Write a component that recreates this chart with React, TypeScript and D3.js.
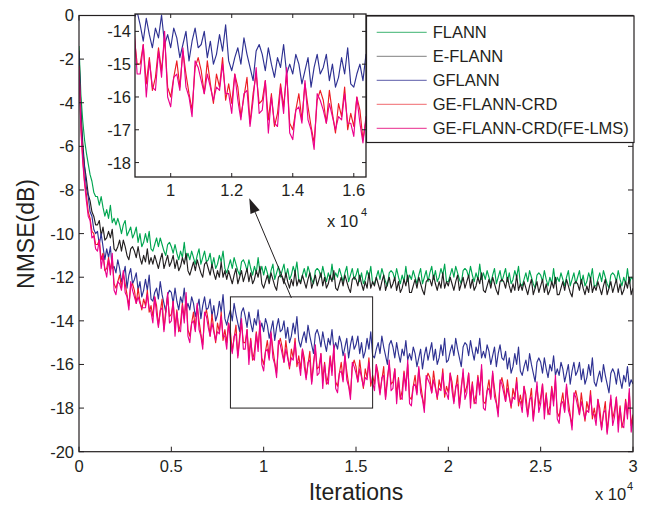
import React from 'react';
import * as d3 from 'd3';

// iterations sampled every 100
const ITER: number[] = d3.range(0, 30001, 100);

const FLANN = [
-1.4,-3.6,-4.8,-5.7,-6.3,-6.8,-7.3,-7.6,-8.1,-8.3,
-8.3,-8.7,-8.3,-8.8,-9.2,-8.9,-9.3,-8.7,-9.5,-9.3,
-9.6,-9.3,-9.6,-10.0,-9.6,-9.4,-10.1,-9.9,-9.7,-10.2,
-10.0,-9.7,-10.4,-10.0,-10.6,-10.4,-10.0,-10.4,-9.9,-10.7,
-10.8,-10.5,-10.2,-10.6,-10.2,-10.5,-10.8,-11.0,-10.5,-10.4,
-10.6,-10.9,-10.5,-10.9,-11.2,-10.8,-11.1,-10.4,-11.2,-10.9,
-11.2,-10.8,-11.1,-11.4,-11.0,-10.7,-11.4,-11.1,-10.8,-11.3,
-11.2,-10.9,-11.5,-11.1,-11.6,-11.4,-11.0,-11.3,-10.8,-11.6,
-11.8,-11.5,-11.2,-11.6,-11.1,-11.4,-11.7,-11.9,-11.3,-11.2,
-11.4,-11.7,-11.2,-11.6,-11.9,-11.5,-11.8,-11.1,-11.8,-11.5,
-11.9,-11.5,-11.8,-12.1,-11.7,-11.4,-12.1,-11.8,-11.5,-12.0,
-11.7,-11.4,-12.0,-11.6,-12.1,-11.9,-11.5,-11.8,-11.3,-12.1,
-12.2,-11.9,-11.6,-12.0,-11.5,-11.8,-12.1,-12.3,-11.7,-11.6,
-11.7,-12.0,-11.5,-11.9,-12.2,-11.8,-12.1,-11.4,-12.1,-11.8,
-12.0,-11.6,-11.9,-12.2,-11.8,-11.5,-12.2,-11.9,-11.6,-12.1,
-11.9,-11.6,-12.2,-11.8,-12.3,-12.1,-11.7,-12.0,-11.5,-12.3,
-12.3,-12.0,-11.7,-12.1,-11.6,-11.9,-12.2,-12.4,-11.8,-11.7,
-11.8,-12.1,-11.6,-12.0,-12.3,-11.9,-12.2,-11.5,-12.2,-11.9,
-12.1,-11.7,-12.0,-12.3,-11.9,-11.6,-12.3,-12.0,-11.7,-12.2,
-11.8,-11.5,-12.1,-11.7,-12.2,-12.0,-11.6,-11.9,-11.4,-12.2,
-12.2,-11.9,-11.6,-12.0,-11.5,-11.8,-12.1,-12.3,-11.7,-11.6,
-11.7,-12.0,-11.5,-11.9,-12.2,-11.8,-12.1,-11.4,-12.1,-11.8,
-12.1,-11.7,-12.0,-12.3,-11.9,-11.6,-12.3,-12.0,-11.7,-12.2,
-11.9,-11.6,-12.2,-11.8,-12.3,-12.1,-11.7,-12.0,-11.5,-12.3,
-12.4,-12.1,-11.8,-12.2,-11.7,-12.0,-12.3,-12.5,-11.9,-11.8,
-11.9,-12.2,-11.7,-12.1,-12.4,-12.0,-12.3,-11.6,-12.3,-12.0,
-12.2,-11.8,-12.1,-12.4,-12.0,-11.7,-12.4,-12.1,-11.8,-12.3,
-12.0,-11.7,-12.3,-11.9,-12.4,-12.2,-11.8,-12.1,-11.6,-12.4,
-12.4,-12.1,-11.8,-12.2,-11.7,-12.0,-12.3,-12.5,-11.9,-11.8,
-11.9,-12.2,-11.7,-12.1,-12.4,-12.0,-12.3,-11.6,-12.3,-12.0,
-12.1];

const E_FLANN = [
-1.6,-4.3,-5.8,-6.9,-7.5,-8.2,-8.5,-9.0,-9.2,-9.6,
-9.6,-9.4,-10.1,-9.7,-10.3,-10.2,-9.9,-10.2,-9.8,-10.7,
-10.8,-10.6,-10.3,-10.8,-10.3,-10.6,-11.0,-11.2,-10.7,-10.6,
-10.8,-11.1,-10.6,-11.1,-11.4,-11.0,-11.3,-10.7,-11.4,-11.1,
-11.4,-11.0,-11.3,-11.6,-11.2,-10.9,-11.6,-11.3,-11.0,-11.5,
-11.3,-11.0,-11.6,-11.2,-11.7,-11.5,-11.1,-11.4,-10.9,-11.7,
-11.9,-11.6,-11.3,-11.7,-11.2,-11.5,-11.8,-12.0,-11.4,-11.3,
-11.6,-11.9,-11.4,-11.8,-12.1,-11.7,-12.0,-11.3,-12.0,-11.7,
-12.1,-11.7,-12.0,-12.3,-11.9,-11.6,-12.3,-12.0,-11.7,-12.2,
-11.9,-11.6,-12.2,-11.8,-12.3,-12.1,-11.7,-12.0,-11.5,-12.3,
-12.5,-12.2,-11.9,-12.3,-11.8,-12.1,-12.4,-12.6,-12.0,-11.9,
-12.0,-12.3,-11.8,-12.2,-12.5,-12.1,-12.4,-11.7,-12.4,-12.1,
-12.3,-11.9,-12.2,-12.5,-12.1,-11.8,-12.5,-12.2,-11.9,-12.4,
-12.1,-11.8,-12.4,-12.0,-12.5,-12.3,-11.9,-12.2,-11.7,-12.5,
-12.6,-12.3,-12.0,-12.4,-11.9,-12.2,-12.5,-12.7,-12.1,-12.0,
-12.1,-12.4,-11.9,-12.3,-12.6,-12.2,-12.5,-11.8,-12.5,-12.2,
-12.4,-12.0,-12.3,-12.6,-12.2,-11.9,-12.6,-12.3,-12.0,-12.5,
-12.3,-12.0,-12.6,-12.2,-12.7,-12.5,-12.1,-12.4,-11.9,-12.7,
-12.7,-12.4,-12.1,-12.5,-12.0,-12.3,-12.6,-12.8,-12.2,-12.1,
-12.1,-12.4,-11.9,-12.3,-12.6,-12.2,-12.5,-11.8,-12.5,-12.2,
-12.4,-12.0,-12.3,-12.6,-12.2,-11.9,-12.6,-12.3,-12.0,-12.5,
-12.2,-11.9,-12.5,-12.1,-12.6,-12.4,-12.0,-12.3,-11.8,-12.6,
-12.7,-12.4,-12.1,-12.5,-12.0,-12.3,-12.6,-12.8,-12.2,-12.1,
-12.2,-12.5,-12.0,-12.4,-12.7,-12.3,-12.6,-11.9,-12.6,-12.3,
-12.6,-12.2,-12.5,-12.8,-12.4,-12.1,-12.8,-12.5,-12.2,-12.7,
-12.4,-12.1,-12.7,-12.3,-12.8,-12.6,-12.2,-12.5,-12.0,-12.8,
-12.8,-12.5,-12.2,-12.6,-12.1,-12.4,-12.7,-12.9,-12.3,-12.2,
-12.3,-12.6,-12.1,-12.5,-12.8,-12.4,-12.7,-12.0,-12.7,-12.4,
-12.6,-12.2,-12.5,-12.8,-12.4,-12.1,-12.8,-12.5,-12.2,-12.7,
-12.4,-12.1,-12.7,-12.3,-12.8,-12.6,-12.2,-12.5,-12.0,-12.8,
-12.5];

const GFLANN = [
-1.8,-4.6,-6.1,-7.0,-7.9,-8.3,-9.0,-9.2,-9.8,-10.0,
-9.9,-10.5,-10.0,-10.6,-11.2,-10.7,-11.1,-10.6,-11.6,-11.5,
-11.8,-11.2,-11.6,-12.2,-11.9,-11.5,-12.5,-11.9,-11.6,-12.3,
-12.1,-11.8,-12.6,-12.2,-12.9,-12.6,-12.1,-12.6,-11.9,-13.0,
-13.1,-12.7,-12.5,-13.0,-12.2,-12.8,-13.2,-13.6,-12.8,-12.6,
-12.7,-13.2,-12.5,-13.1,-13.5,-12.9,-13.2,-12.5,-13.5,-13.2,
-13.5,-12.9,-13.2,-13.8,-13.4,-13.0,-13.9,-13.3,-12.9,-13.5,
-13.4,-13.0,-13.8,-13.3,-14.0,-13.7,-13.1,-13.6,-12.8,-13.9,
-14.2,-13.8,-13.5,-14.0,-13.2,-13.7,-14.1,-14.5,-13.6,-13.4,
-13.8,-14.3,-13.6,-14.1,-14.5,-13.9,-14.2,-13.5,-14.4,-14.1,
-14.5,-13.9,-14.2,-14.8,-14.4,-14.0,-14.9,-14.3,-13.9,-14.5,
-14.4,-14.0,-14.8,-14.3,-15.0,-14.7,-14.1,-14.6,-13.8,-14.9,
-15.2,-14.8,-14.5,-15.0,-14.2,-14.7,-15.1,-15.5,-14.6,-14.4,
-14.7,-15.2,-14.5,-15.0,-15.4,-14.8,-15.1,-14.4,-15.3,-15.0,
-15.3,-14.7,-15.0,-15.6,-15.2,-14.8,-15.7,-15.1,-14.7,-15.3,
-15.1,-14.7,-15.5,-15.0,-15.7,-15.4,-14.8,-15.3,-14.5,-15.6,
-15.7,-15.3,-15.0,-15.5,-14.7,-15.2,-15.6,-16.0,-15.1,-14.9,
-15.2,-15.7,-15.0,-15.5,-15.9,-15.3,-15.6,-14.9,-15.8,-15.5,
-15.8,-15.2,-15.5,-16.1,-15.7,-15.3,-16.2,-15.6,-15.2,-15.8,
-15.4,-15.0,-15.8,-15.3,-16.0,-15.7,-15.1,-15.6,-14.8,-15.9,
-15.8,-15.4,-15.1,-15.6,-14.8,-15.3,-15.7,-16.1,-15.2,-15.0,
-15.1,-15.6,-14.9,-15.4,-15.8,-15.2,-15.5,-14.8,-15.7,-15.4,
-15.7,-15.1,-15.4,-16.0,-15.6,-15.2,-16.1,-15.5,-15.1,-15.7,
-15.8,-15.4,-16.2,-15.7,-16.4,-16.1,-15.5,-16.0,-15.2,-16.3,
-16.5,-16.1,-15.8,-16.3,-15.5,-16.0,-16.4,-16.8,-15.9,-15.7,
-15.9,-16.4,-15.7,-16.2,-16.6,-16.0,-16.3,-15.6,-16.5,-16.2,
-16.5,-15.9,-16.2,-16.8,-16.4,-16.0,-16.9,-16.3,-15.9,-16.5,
-16.3,-15.9,-16.7,-16.2,-16.9,-16.6,-16.0,-16.5,-15.7,-16.8,
-17.0,-16.6,-16.3,-16.8,-16.0,-16.5,-16.9,-17.3,-16.4,-16.2,
-16.4,-16.9,-16.2,-16.7,-17.1,-16.5,-16.8,-16.1,-17.0,-16.7,
-16.9];

const GE_FLANN_CRD = [
-2.3,-5.0,-6.5,-7.6,-8.2,-9.0,-9.3,-9.9,-10.0,-10.5,
-10.5,-10.3,-11.2,-10.9,-11.7,-11.6,-11.1,-11.7,-11.1,-12.3,
-12.5,-12.2,-11.9,-12.5,-11.8,-12.3,-12.8,-13.3,-12.4,-12.3,
-12.6,-13.2,-12.5,-13.1,-13.5,-13.0,-13.3,-12.6,-13.6,-13.3,
-13.8,-12.9,-13.3,-14.2,-13.6,-13.0,-14.4,-13.5,-12.9,-13.8,
-13.7,-13.1,-14.3,-13.5,-14.5,-14.1,-13.2,-13.9,-12.9,-14.4,
-14.7,-14.1,-13.6,-14.4,-13.3,-14.0,-14.6,-15.1,-13.8,-13.5,
-14.0,-14.7,-13.7,-14.4,-15.0,-14.1,-14.5,-13.6,-14.9,-14.4,
-15.0,-14.1,-14.5,-15.4,-14.8,-14.2,-15.6,-14.7,-14.1,-15.0,
-15.0,-14.4,-15.6,-14.8,-15.8,-15.4,-14.5,-15.2,-14.2,-15.7,
-16.0,-15.4,-14.9,-15.7,-14.6,-15.3,-15.9,-16.4,-15.1,-14.8,
-15.2,-15.9,-14.9,-15.6,-16.2,-15.3,-15.7,-14.8,-16.1,-15.6,
-16.2,-15.3,-15.7,-16.6,-16.0,-15.4,-16.8,-15.9,-15.3,-16.2,
-16.1,-15.5,-16.7,-15.9,-16.9,-16.5,-15.6,-16.3,-15.3,-16.8,
-17.0,-16.4,-15.9,-16.7,-15.6,-16.3,-16.9,-17.4,-16.1,-15.8,
-16.1,-16.8,-15.8,-16.5,-17.1,-16.2,-16.6,-15.7,-17.0,-16.5,
-16.9,-16.0,-16.4,-17.3,-16.7,-16.1,-17.5,-16.6,-16.0,-16.9,
-16.8,-16.2,-17.4,-16.6,-17.6,-17.2,-16.3,-17.0,-16.0,-17.5,
-17.6,-17.0,-16.5,-17.3,-16.2,-16.9,-17.5,-18.0,-16.7,-16.4,
-16.6,-17.3,-16.3,-17.0,-17.6,-16.7,-17.1,-16.2,-17.5,-17.0,
-17.3,-16.4,-16.8,-17.7,-17.1,-16.5,-17.9,-17.0,-16.4,-17.3,
-17.0,-16.4,-17.6,-16.8,-17.8,-17.4,-16.5,-17.2,-16.2,-17.7,
-17.8,-17.2,-16.7,-17.5,-16.4,-17.1,-17.7,-18.2,-16.9,-16.6,
-17.0,-17.7,-16.7,-17.4,-18.0,-17.1,-17.5,-16.6,-17.9,-17.4,
-17.9,-17.0,-17.4,-18.3,-17.7,-17.1,-18.5,-17.6,-17.0,-17.9,
-17.5,-16.9,-18.1,-17.3,-18.3,-17.9,-17.0,-17.7,-16.7,-18.2,
-18.4,-17.8,-17.3,-18.1,-17.0,-17.7,-18.3,-18.8,-17.5,-17.2,
-17.6,-18.3,-17.3,-18.0,-18.6,-17.7,-18.1,-17.2,-18.5,-18.0,
-18.5,-17.6,-18.0,-18.9,-18.3,-17.7,-19.1,-18.2,-17.6,-18.5,
-18.1,-17.5,-18.7,-17.9,-18.9,-18.5,-17.6,-18.3,-17.3,-18.8,
-18.3];

const GE_FLANN_CRD_FELMS = [
-2.4,-5.2,-6.7,-7.7,-8.5,-9.2,-9.4,-10.2,-10.1,-10.7,
-10.8,-10.3,-11.6,-11.0,-11.6,-12.0,-11.2,-11.9,-10.9,-12.6,
-12.8,-12.2,-12.3,-12.6,-11.7,-12.7,-12.9,-13.5,-12.2,-12.6,
-12.9,-13.2,-12.9,-13.2,-13.4,-13.4,-13.4,-12.8,-13.4,-13.6,
-14.1,-12.9,-13.7,-14.3,-13.5,-13.4,-14.5,-13.7,-12.7,-14.1,
-14.0,-13.1,-14.7,-13.6,-14.4,-14.5,-13.3,-14.1,-12.7,-14.7,
-15.0,-14.1,-14.0,-14.5,-13.2,-14.4,-14.7,-15.3,-13.6,-13.8,
-14.3,-14.7,-14.1,-14.5,-14.9,-14.5,-14.6,-13.8,-14.7,-14.7,
-15.3,-14.1,-14.9,-15.5,-14.7,-14.6,-15.7,-14.9,-13.9,-15.3,
-15.3,-14.4,-16.0,-14.9,-15.7,-15.8,-14.6,-15.4,-14.0,-16.0,
-16.3,-15.4,-15.3,-15.8,-14.5,-15.7,-16.0,-16.6,-14.9,-15.1,
-15.5,-15.9,-15.3,-15.7,-16.1,-15.7,-15.8,-15.0,-15.9,-15.9,
-16.5,-15.3,-16.1,-16.7,-15.9,-15.8,-16.9,-16.1,-15.1,-16.5,
-16.4,-15.5,-17.1,-16.0,-16.8,-16.9,-15.7,-16.5,-15.1,-17.1,
-17.3,-16.4,-16.3,-16.8,-15.5,-16.7,-17.0,-17.6,-15.9,-16.1,
-16.4,-16.8,-16.2,-16.6,-17.0,-16.6,-16.7,-15.9,-16.8,-16.8,
-17.2,-16.0,-16.8,-17.4,-16.6,-16.5,-17.6,-16.8,-15.8,-17.2,
-17.1,-16.2,-17.8,-16.7,-17.5,-17.6,-16.4,-17.2,-15.8,-17.8,
-17.9,-17.0,-16.9,-17.4,-16.1,-17.3,-17.6,-18.2,-16.5,-16.7,
-16.9,-17.3,-16.7,-17.1,-17.5,-17.1,-17.2,-16.4,-17.3,-17.3,
-17.6,-16.4,-17.2,-17.8,-17.0,-16.9,-18.0,-17.2,-16.2,-17.6,
-17.3,-16.4,-18.0,-16.9,-17.7,-17.8,-16.6,-17.4,-16.0,-18.0,
-18.1,-17.2,-17.1,-17.6,-16.3,-17.5,-17.8,-18.4,-16.7,-16.9,
-17.3,-17.7,-17.1,-17.5,-17.9,-17.5,-17.6,-16.8,-17.7,-17.7,
-18.2,-17.0,-17.8,-18.4,-17.6,-17.5,-18.6,-17.8,-16.8,-18.2,
-17.8,-16.9,-18.5,-17.4,-18.2,-18.3,-17.1,-17.9,-16.5,-18.5,
-18.7,-17.8,-17.7,-18.2,-16.9,-18.1,-18.4,-19.0,-17.3,-17.5,
-17.9,-18.3,-17.7,-18.1,-18.5,-18.1,-18.2,-17.4,-18.3,-18.3,
-18.8,-17.6,-18.4,-19.0,-18.2,-18.1,-19.2,-18.4,-17.4,-18.8,
-18.4,-17.5,-19.1,-18.0,-18.8,-18.9,-17.7,-18.5,-17.1,-19.1,
-18.5];

const SERIES_NAMES = ['FLANN', 'E-FLANN', 'GFLANN', 'GE-FLANN-CRD', 'GE-FLANN-CRD(FE-LMS)'];
const SERIES_VALUES = [FLANN, E_FLANN, GFLANN, GE_FLANN_CRD, GE_FLANN_CRD_FELMS];
const SERIES_COLORS = ['#00a651', '#231f20', '#2e3192', '#ed1c24', '#ec008c'];
const LEGEND_COLORS = ['#3cb371', '#808080', '#5a5aa8', '#f06a6e', '#e8288c'];

const X_TICKS = [0, 5000, 10000, 15000, 20000, 25000, 30000];
const X_TICK_LABELS = ['0', '0.5', '1', '1.5', '2', '2.5', '3'];
const Y_TICKS = [-20, -18, -16, -14, -12, -10, -8, -6, -4, -2, 0];
const INSET_X_TICKS = [10000, 12000, 14000, 16000];
const INSET_X_TICK_LABELS = ['1', '1.2', '1.4', '1.6'];
const INSET_Y_TICKS = [-18, -17, -16, -15, -14];
const INSET_SERIES = [2, 3, 4];
const ZOOM_BOX_X = [8200, 15900];
const ZOOM_BOX_Y = [-18, -12.9];
const ARROW_FROM = [11500, -12.95];
const ARROW_TO = [9220, -8.38];

const FONT = '"Liberation Sans", Arial, Helvetica, sans-serif';
const TXT = '#231f20';

export default function App() {
  const W = 651, H = 505;
  const m = { l: 79, r: 633, t: 15.5, b: 451.7 };
  const ins = { l: 135, r: 366, t: 14, b: 177 };

  const x = d3.scaleLinear().domain([0, 30000]).range([m.l, m.r]);
  const y = d3.scaleLinear().domain([-20, 0]).range([m.b, m.t]);
  const ix = d3.scaleLinear().domain([8830, 16400]).range([ins.l, ins.r]);
  const iy = d3.scaleLinear().domain([-18.44, -13.47]).range([ins.b, ins.t]);

  const mainLine = d3.line<number>().x((_, i) => x(ITER[i])).y(d => y(d));
  const insetLine = d3.line<number>().x((_, i) => ix(ITER[i])).y(d => iy(d));

  const tick = 5;
  const ax = ARROW_FROM, at = ARROW_TO;
  const x1 = x(ax[0]), y1 = y(ax[1]), x2 = x(at[0]), y2 = y(at[1]);
  const ang = Math.atan2(y2 - y1, x2 - x1);
  const hl = 15, hw = 5;
  const bx = x2 - hl * Math.cos(ang), by = y2 - hl * Math.sin(ang);
  const head = `M${x2},${y2}L${bx + hw * Math.sin(ang)},${by - hw * Math.cos(ang)}L${bx - hw * Math.sin(ang)},${by + hw * Math.cos(ang)}Z`;

  const leg = { x: 366.5, y: 16, w: 267.5, h: 126.5 };
  const legY0 = 32.3, legDy = 24;

  return (
    <svg width={W} height={H} style={{ position: 'absolute', left: 0, top: 0, background: '#fff' }}
      fontFamily={FONT}>
      <defs>
        <clipPath id="mainClip"><rect x={m.l} y={m.t} width={m.r - m.l} height={m.b - m.t} /></clipPath>
        <clipPath id="insClip"><rect x={ins.l} y={ins.t} width={ins.r - ins.l} height={ins.b - ins.t} /></clipPath>
      </defs>
      <rect x={0} y={0} width={W} height={H} fill="#fff" />
      {/* main lines */}
      <g clipPath="url(#mainClip)">
        {SERIES_VALUES.map((s, k) => (
          <path key={k} d={mainLine(s) || ''} fill="none" stroke={SERIES_COLORS[k]} strokeWidth={1.15} strokeLinejoin="round" />
        ))}
      </g>
      {/* main axes box */}
      <rect x={m.l} y={m.t} width={m.r - m.l} height={m.b - m.t} fill="none" stroke={TXT} strokeWidth={1.2} />
      {X_TICKS.map((t, i) => (
        <g key={'xt' + i}>
          <line x1={x(t)} x2={x(t)} y1={m.b} y2={m.b - tick} stroke={TXT} strokeWidth={1} />
          <line x1={x(t)} x2={x(t)} y1={m.t} y2={m.t + tick} stroke={TXT} strokeWidth={1} />
          <text x={x(t)} y={472} textAnchor="middle" fontSize={16.5} fill={TXT}>{X_TICK_LABELS[i]}</text>
        </g>
      ))}
      {Y_TICKS.map((t, i) => (
        <g key={'yt' + i}>
          <line x1={m.l} x2={m.l + tick} y1={y(t)} y2={y(t)} stroke={TXT} strokeWidth={1} />
          <line x1={m.r} x2={m.r - tick} y1={y(t)} y2={y(t)} stroke={TXT} strokeWidth={1} />
          <text x={74} y={y(t)} dy="0.36em" textAnchor="end" fontSize={16.5} fill={TXT}>{t}</text>
        </g>
      ))}
      <text x={(m.l + m.r) / 2} y={500} textAnchor="middle" fontSize={23} fill={TXT}>Iterations</text>
      <text x={595} y={500} fontSize={16.5} fill={TXT}>x 10</text>
      <text x={627} y={490} fontSize={11} fill={TXT}>4</text>
      <text transform={`translate(34,234) rotate(-90)`} textAnchor="middle" fontSize={23} fill={TXT}>NMSE(dB)</text>

      {/* zoom box and arrow */}
      <rect x={x(ZOOM_BOX_X[0])} y={y(ZOOM_BOX_Y[1])} width={x(ZOOM_BOX_X[1]) - x(ZOOM_BOX_X[0])}
        height={y(ZOOM_BOX_Y[0]) - y(ZOOM_BOX_Y[1])} fill="none" stroke={TXT} strokeWidth={1} />
      <line x1={x1} y1={y1} x2={bx} y2={by} stroke={TXT} strokeWidth={1} />
      <path d={head} fill={TXT} />

      {/* inset */}
      <rect x={ins.l} y={ins.t} width={ins.r - ins.l} height={ins.b - ins.t} fill="#fff" />
      <g clipPath="url(#insClip)">
        {INSET_SERIES.map(k => (
          <path key={k} d={insetLine(SERIES_VALUES[k]) || ''} fill="none" stroke={SERIES_COLORS[k]} strokeWidth={1.15} strokeLinejoin="round" />
        ))}
      </g>
      <rect x={ins.l} y={ins.t} width={ins.r - ins.l} height={ins.b - ins.t} fill="none" stroke={TXT} strokeWidth={1.3} />
      {INSET_X_TICKS.map((t, i) => (
        <g key={'ixt' + i}>
          <line x1={ix(t)} x2={ix(t)} y1={ins.b} y2={ins.b - 4} stroke={TXT} strokeWidth={1} />
          <line x1={ix(t)} x2={ix(t)} y1={ins.t} y2={ins.t + 4} stroke={TXT} strokeWidth={1} />
          <text x={ix(t)} y={196} textAnchor="middle" fontSize={16.5} fill={TXT}>{INSET_X_TICK_LABELS[i]}</text>
        </g>
      ))}
      {INSET_Y_TICKS.map((t, i) => (
        <g key={'iyt' + i}>
          <line x1={ins.l} x2={ins.l + 4} y1={iy(t)} y2={iy(t)} stroke={TXT} strokeWidth={1} />
          <line x1={ins.r} x2={ins.r - 4} y1={iy(t)} y2={iy(t)} stroke={TXT} strokeWidth={1} />
          <text x={131} y={iy(t)} dy="0.36em" textAnchor="end" fontSize={16.5} fill={TXT}>{t}</text>
        </g>
      ))}
      <text x={327} y={227} fontSize={16.5} fill={TXT}>x 10</text>
      <text x={361} y={216} fontSize={11} fill={TXT}>4</text>

      {/* legend */}
      <rect x={leg.x} y={leg.y} width={leg.w} height={leg.h} fill="#fff" stroke={TXT} strokeWidth={1.2} />
      {SERIES_NAMES.map((n, i) => (
        <g key={'lg' + i}>
          <line x1={376.7} x2={426.7} y1={legY0 + i * legDy} y2={legY0 + i * legDy} stroke={LEGEND_COLORS[i]} strokeWidth={1} />
          <text x={432.7} y={legY0 + i * legDy} dy="0.36em" fontSize={16.5} fill={TXT}>{n}</text>
        </g>
      ))}
    </svg>
  );
}
